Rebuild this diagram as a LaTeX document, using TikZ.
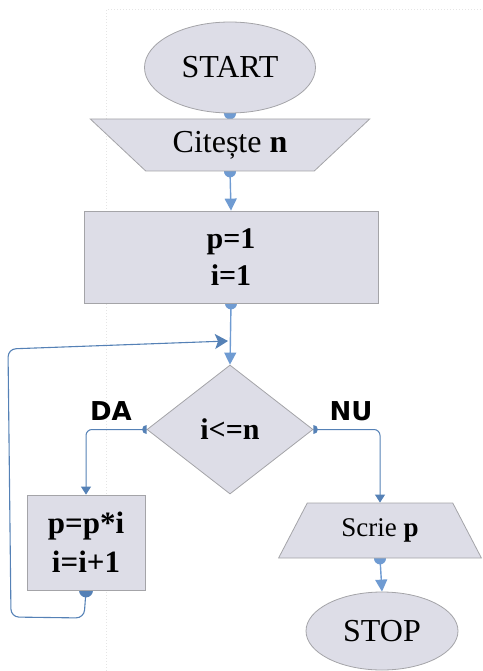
\documentclass[tikz,border=0pt]{standalone}
\usepackage{fontspec}
\setmainfont{Liberation Serif}
\newfontfamily\tagfont{DejaVu Sans}
\usetikzlibrary{shapes.geometric,arrows.meta}
\definecolor{boxfill}{HTML}{DDDDE7}
\definecolor{boxline}{HTML}{A4A4A8}
\definecolor{flow}{HTML}{6F9BD2}
\definecolor{flowdark}{HTML}{5581B6}
\tikzset{
    block/.style={draw=boxline, fill=boxfill, line width=0.8pt, inner sep=0pt,
    	align=center, font=\fontsize{32}{37}\selectfont},
    terminal/.style={block, ellipse},
    io/.style={block, trapezium, trapezium stretches=true},
    process/.style={block, rectangle},
    decision/.style={block, diamond}
}
\tikzset{
    tag/.style={font=\tagfont\bfseries\fontsize{26}{30}\selectfont, inner sep=0pt},
    flowline/.style={draw=flow, line width=1.4pt, -{Triangle[length=12pt,width=12pt]}},
    branch/.style={draw=flowdark, line width=1pt, rounded corners=6pt,
    	-{Triangle[length=8pt,width=10pt]}},
    backline/.style={draw=flowdark, line width=1.1pt, rounded corners=8pt,
    	-{Stealth[length=13pt,width=15pt,inset=3pt]}},
    guide/.style={draw=black!10, dotted, line width=1pt}
}
\pgfdeclarelayer{background}
\pgfsetlayers{background,main}

\begin{document}
\begin{tikzpicture}[x=1pt, y=-1pt]
	\useasboundingbox (0,0) rectangle (482,671);

	\node (start) [terminal, minimum width=171pt, minimum height=91pt] at (230, 67.5) {START};
	\node (read) [io, shape border rotate=180, trapezium left angle=36.6,
		trapezium right angle=36.6, minimum width=280pt, minimum height=52pt]
		at (230, 145) {Citește \textbf{n}};
	\node (init) [process, minimum width=294pt, minimum height=92pt,
		font=\bfseries\fontsize{30}{37}\selectfont] at (231, 257) {p=1\\i=1};
	\node (test) [decision, aspect=1.29, minimum width=166pt, minimum height=129pt,
		font=\bfseries\fontsize{30}{37}\selectfont] at (230, 429.5) {i<=n};
	\node (body) [process, minimum width=118pt, minimum height=95pt,
		font=\bfseries\fontsize{31}{39}\selectfont] at (86, 542.5) {p=p*i\\i=i+1};
	\node (write) [io, trapezium left angle=57.2, trapezium right angle=57.2,
		minimum width=203pt, minimum height=55pt, font=\fontsize{27}{32}\selectfont]
		at (380, 530.5) {Scrie \textbf{p}};
	\node (stop) [terminal, minimum width=152pt, minimum height=78pt] at (382, 631) {STOP};

	\node (yes) [tag] at (111, 411) {DA};
	\node (no) [tag] at (351, 411) {NU};
	\coordinate (merge) at (228, 341);

	\begin{pgfonlayer}{background}
		\draw[guide] (106,671) -- (106,10) -- (482,10);

		\fill[flow] (start.south) circle (6);
		\fill[flow] (read.south) circle (6);
		\fill[flow] (init.south) circle (6);
		\fill[flow] (write.south) circle (6);
		\fill[flowdark] (body.south) circle (7);
		\fill[flowdark] (test.west) ++(0,-4.5) arc[start angle=270, end angle=90, radius=4.5] -- cycle;
		\fill[flowdark] (test.east) ++(0,-4.5) arc[start angle=-90, end angle=90, radius=4.5] -- cycle;

		\draw[flow, line width=1.4pt] (start.south) -- (read.north);
		\draw[flowline] (read.south) -- (init.north);
		\draw[flowline] (init.south) -- (test.north);
		\draw[branch] (test.west) -| (body.north);
		\draw[branch] (test.east) -| (write.north);
		\draw[flowline] (write.south) -- (stop.north);
		\draw[backline] (body.south) -- (84,618) -- (11,617) -- (8,349) -- (merge);
	\end{pgfonlayer}
\end{tikzpicture}
\end{document}
